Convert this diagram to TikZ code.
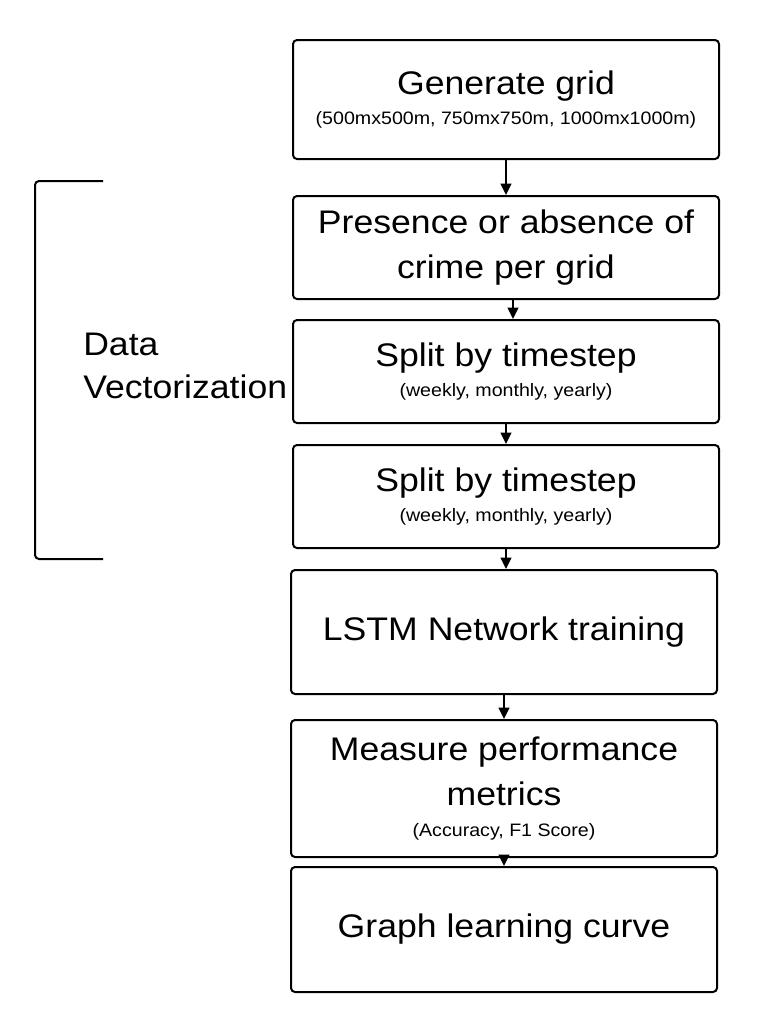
\documentclass[tikz,border=0pt]{standalone}
\usepackage{fontspec}
\setmainfont[FakeStretch=1.09]{Liberation Sans}
\usetikzlibrary{arrows.meta}

\tikzset{
  procbox/.style={draw, line width=1.5pt, rounded corners=3pt, minimum width=319.5pt,
    align=center, font=\fontsize{24.5}{34}\selectfont},
  flow/.style={-{Triangle[length=8.5pt,width=8pt]}, line width=1.3pt},
}
\newcommand{\smalltxt}[1]{{\fontsize{13.5}{16}\selectfont #1}}

\begin{document}
\begin{tikzpicture}[x=0.75pt,y=-0.75pt]
    \useasboundingbox (0,0) rectangle (774,1033);

    \node[procbox, minimum height=89.25pt] (grid) at (506,99.5)
        {Generate grid\\[-11pt]\smalltxt{(500mx500m, 750mx750m, 1000mx1000m)}};
    \node[procbox, minimum height=77.25pt] (crime) at (506,247.5)
        {Presence or absence of\\crime per grid};
    \node[procbox, minimum height=77.25pt] (split1) at (506,371.5)
        {Split by timestep\\[-11pt]\smalltxt{(weekly, monthly, yearly)}};
    \node[procbox, minimum height=77.25pt] (split2) at (506,496.5)
        {Split by timestep\\[-11pt]\smalltxt{(weekly, monthly, yearly)}};
    \node[procbox, minimum height=93pt] (lstm) at (504,632)
        {LSTM Network training};
    \node[procbox, minimum height=102.75pt] (metrics) at (504,788.5)
        {Measure performance\\metrics\\[-11pt]\smalltxt{(Accuracy, F1 Score)}};
    \node[procbox, minimum height=93.75pt] (curve) at (504,929.5)
        {Graph learning curve};

    % bracket over the vectorization steps
    \draw[line width=1.5pt, rounded corners=3pt] (103,181) -- (35,181) -- (35,559) -- (103,559);
    \node[anchor=north west, inner sep=0pt, align=left, font=\fontsize{24.5}{32}\selectfont]
        (vect) at (83,333) {Data\\Vectorization};

    \draw[flow] (grid.south) -- (grid.south |- crime.north);
    \draw[flow] ([xshift=5.25pt]crime.south) -- ([xshift=5.25pt]crime.south |- split1.north);
    \draw[flow] (split1.south) -- (split1.south |- split2.north);
    \draw[flow] (split2.south) -- (split2.south |- lstm.north);
    \draw[flow] (lstm.south) -- (lstm.south |- metrics.north);
    \draw[flow] (metrics.south) -- (metrics.south |- curve.north);

\end{tikzpicture}
\end{document}
